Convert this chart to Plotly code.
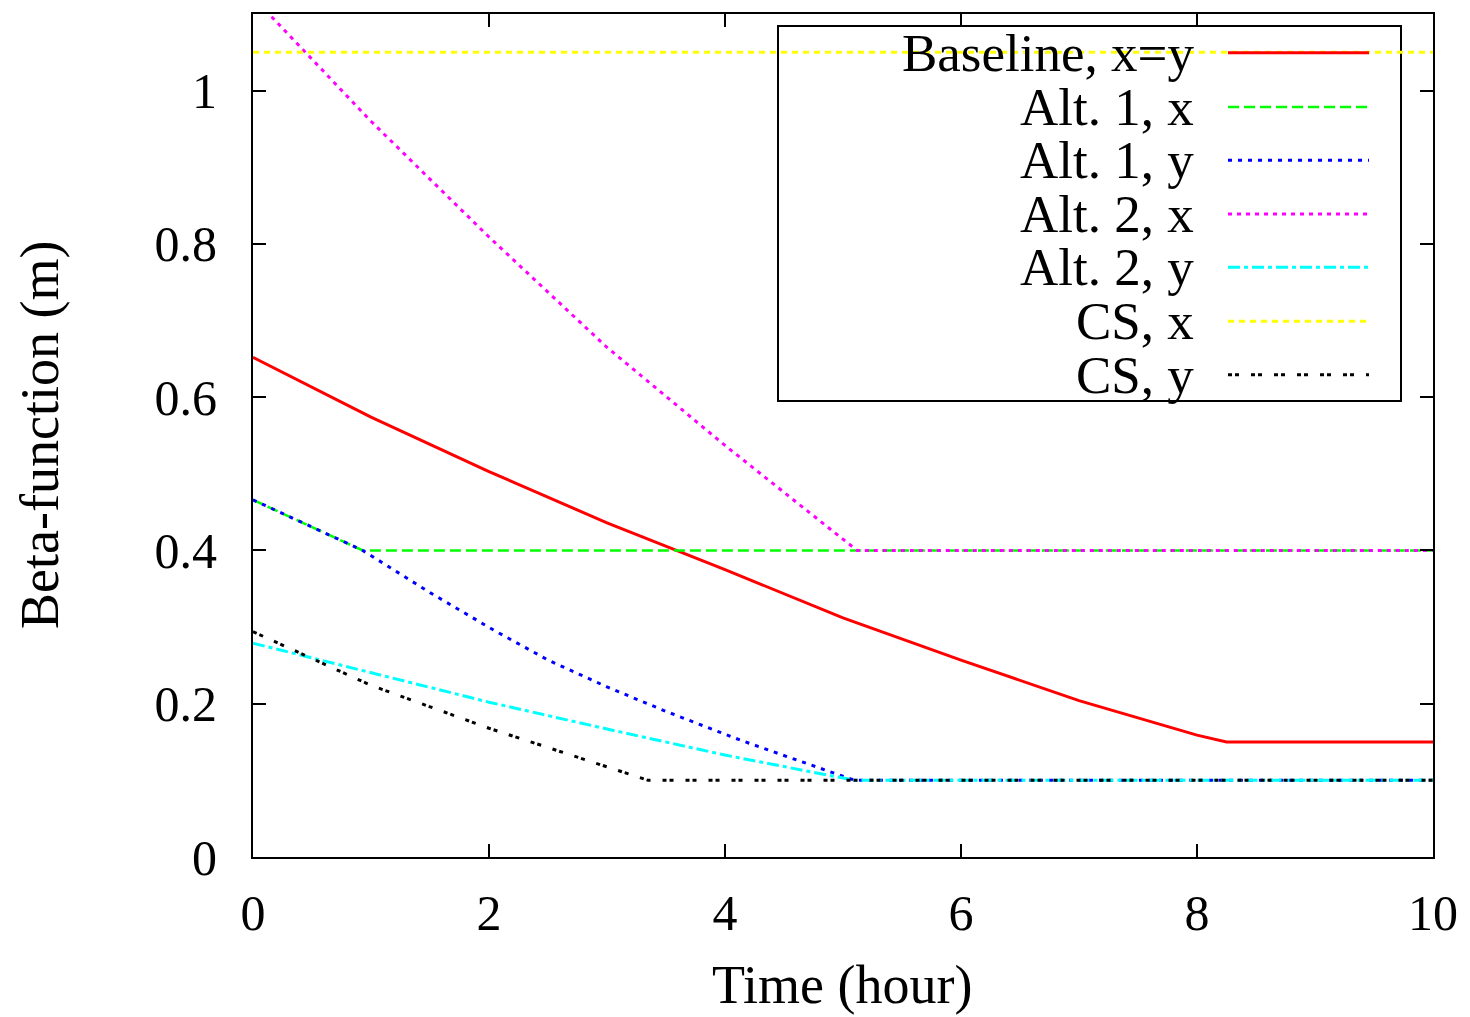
import plotly.graph_objects as go

# ---- data ----
baseline_t = [0, 1, 2, 3, 4, 5, 6, 7, 8, 8.25, 10]
baseline_b = [0.652, 0.574, 0.503, 0.436, 0.375, 0.312, 0.257, 0.204, 0.159, 0.150, 0.150]

alt1x_t = [0, 0.93, 10]
alt1x_b = [0.466, 0.400, 0.400]

alt1y_t = [0, 0.93, 1.5, 2.04, 2.5, 3.0, 3.5, 4.13, 4.6, 5.1, 10]
alt1y_b = [0.466, 0.400, 0.345, 0.296, 0.257, 0.222, 0.190, 0.1525, 0.127, 0.100, 0.100]

alt2x_t = [0, 1, 2, 3, 4, 5, 5.12, 10]
alt2x_b = [1.122, 0.960, 0.809, 0.665, 0.537, 0.415, 0.400, 0.400]

alt2y_t = [0, 1, 2, 3, 4, 5, 5.1, 10]
alt2y_b = [0.279, 0.240, 0.202, 0.167, 0.133, 0.103, 0.100, 0.100]

csx_t = [0, 10]
csx_b = [1.05, 1.05]

csy_t = [0, 1, 2, 3, 3.35, 10]
csy_b = [0.294, 0.224, 0.168, 0.118, 0.100, 0.100]

names = ["Baseline, x=y", "Alt. 1, x", "Alt. 1, y", "Alt. 2, x", "Alt. 2, y", "CS, x", "CS, y"]
xs = [baseline_t, alt1x_t, alt1y_t, alt2x_t, alt2y_t, csx_t, csy_t]
ys = [baseline_b, alt1x_b, alt1y_b, alt2x_b, alt2y_b, csx_b, csy_b]
colors = ["#ff0000", "#00ff00", "#0000ff", "#ff00ff", "#00ffff", "#ffff00", "#000000"]
dashes = ["solid", "11px,5px", "4px,6px", "4px,5px", "12px,4px,4px,4px", "6px,5px", "4px,3px,4px,12px"]
widths = [3, 2.5, 3, 3, 3, 3, 3]

x_title = "Time (hour)"
y_title = "Beta-function (m)"

FONT = "Liberation Serif"
W, H = 1470, 1017
L, R, T, B = 253, 37, 14, 160
pw, ph = W - L - R, H - T - B

fig = go.Figure()
for n, x, y, c, d, w in zip(names, xs, ys, colors, dashes, widths):
    fig.add_trace(go.Scatter(x=x, y=y, mode="lines", name=n, showlegend=False,
                             line=dict(color=c, dash=d, width=w)))

def px(xp):
    return (xp - L) / pw

def py(yp):
    return (H - B - yp) / ph

# ---- gnuplot-style key (text right, sample on the right) ----
shapes = [dict(type="rect", xref="paper", yref="paper",
               x0=px(778), x1=px(1401), y0=py(401), y1=py(26),
               line=dict(color="black", width=2), fillcolor="rgba(0,0,0,0)", layer="below")]
annotations = []
row_y = [52.7, 107, 160.3, 214, 267.3, 321.3, 374.7]
for n, c, d, w, ry in zip(names, colors, dashes, widths, row_y):
    annotations.append(dict(xref="paper", yref="paper", x=px(1196), y=py(ry),
                            text=n, showarrow=False, xanchor="right", yanchor="middle",
                            font=dict(family=FONT, size=53, color="black")))
    shapes.append(dict(type="line", xref="paper", yref="paper",
                       x0=px(1228), x1=px(1369), y0=py(ry), y1=py(ry),
                       line=dict(color=c, dash=d, width=w)))

# axis titles
annotations.append(dict(xref="paper", yref="paper", x=px(842), y=py(985), text=x_title,
                        showarrow=False, xanchor="center", yanchor="middle",
                        font=dict(family=FONT, size=54, color="black")))
annotations.append(dict(xref="paper", yref="paper", x=px(40), y=py(435), text=y_title,
                        showarrow=False, xanchor="center", yanchor="middle", textangle=-90,
                        font=dict(family=FONT, size=54, color="black")))

axis_common = dict(showline=True, linecolor="black", linewidth=2, mirror="allticks",
                   ticks="inside", ticklen=13, tickwidth=1.5, tickcolor="black",
                   showgrid=False, zeroline=False, automargin=False,
                   tickfont=dict(family=FONT, size=50, color="black"))

fig.update_layout(
    width=W, height=H,
    margin=dict(l=L, r=R, t=T, b=B),
    paper_bgcolor="white", plot_bgcolor="white",
    xaxis=dict(range=[0, 10], dtick=2, tick0=0, ticklabelstandoff=11, **axis_common),
    yaxis=dict(range=[0, 1.1], dtick=0.2, tick0=0, ticklabelstandoff=24, **axis_common),
    shapes=shapes, annotations=annotations,
)

fig.write_html("out.html")
